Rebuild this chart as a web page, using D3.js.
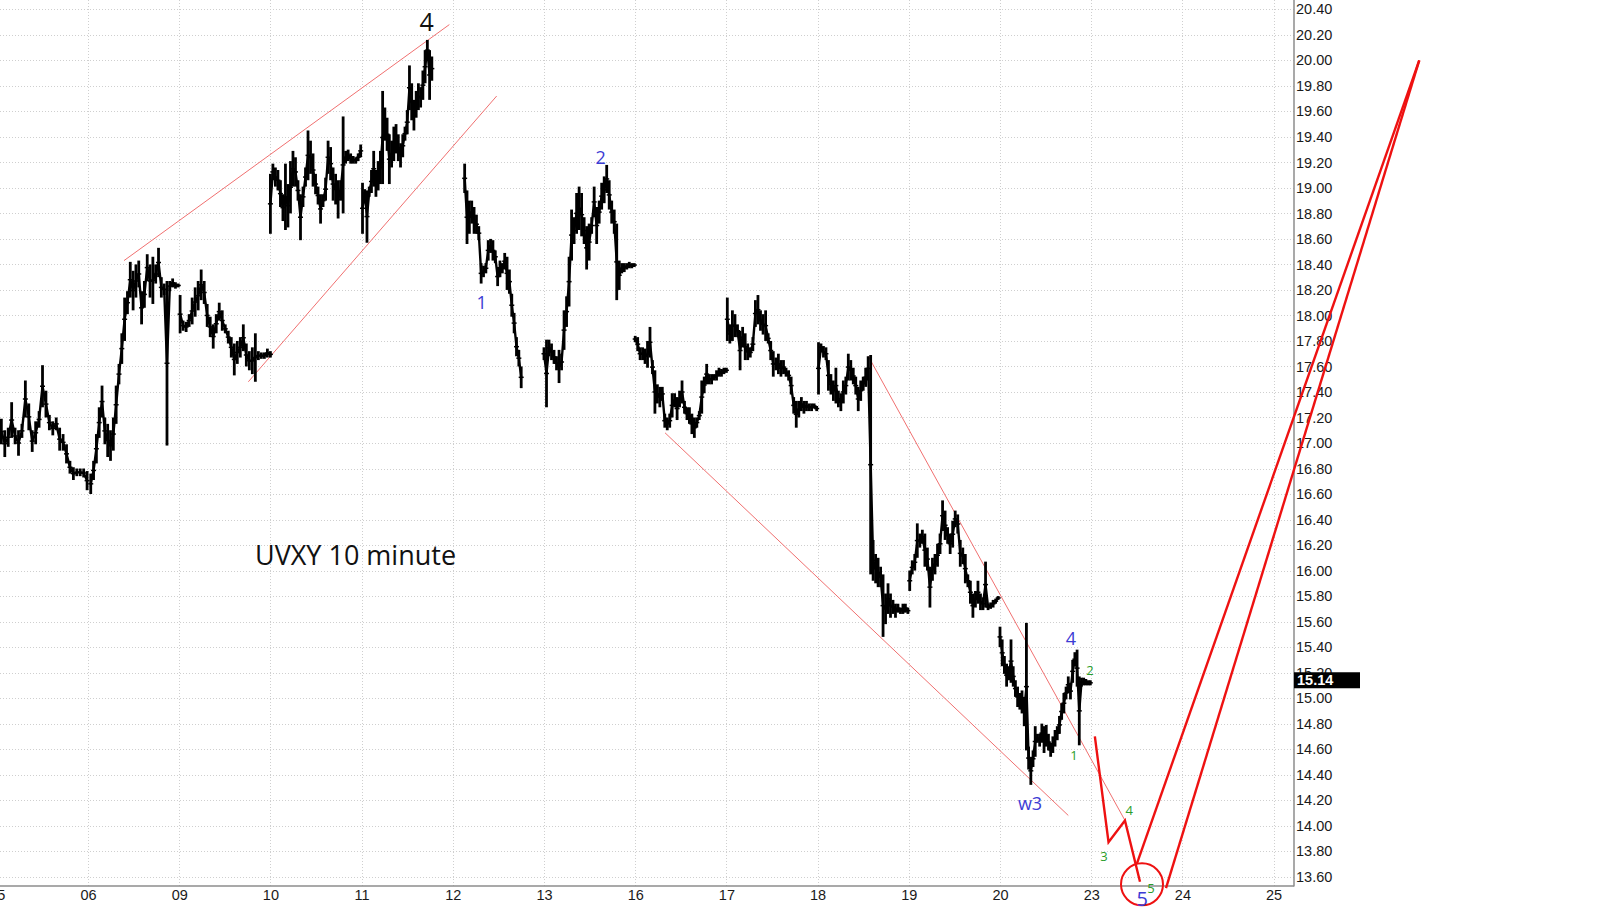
<!DOCTYPE html>
<html>
<head>
<meta charset="utf-8">
<script src="https://cdnjs.cloudflare.com/ajax/libs/d3/7.8.5/d3.min.js"></script>
<style>
  body { margin: 0; background: #fff; }
  svg { display: block; }
</style>
</head>
<body>
<div id="chart"></div>
<script>
// trading days on the axis
var dayLabels = ["05", "06", "09", "10", "11", "12", "13", "16", "17", "18", "19", "20", "23", "24", "25"];
var yTicks = d3.range(136, 205, 2).map(function (v) { return v / 10; });
var lastPrice = 15.14;

// 10 minute bars per day: [high, low]
var d05 = [[17.19,16.99],[17.10,16.89],[17.12,16.97],[17.32,17.04],[17.12,16.99],[17.10,16.90],[17.15,17.04],[17.49,17.20],[17.31,17.10],[17.10,16.93],[17.17,16.99],[17.25,17.12],[17.61,17.28],[17.41,17.20],[17.22,17.10],[17.17,17.06],[17.20,17.10],[17.12,16.94],[17.07,16.94],[16.99,16.84],[16.86,16.76],[16.81,16.71],[16.80,16.74],[16.80,16.74],[16.80,16.73],[16.78,16.63]];
var d06 = [[16.76,16.60],[16.86,16.71],[17.07,16.84],[17.28,17.04],[17.45,17.20],[17.20,16.99],[17.15,16.89],[17.10,16.86],[17.20,16.94],[17.45,17.15],[17.62,17.46],[17.86,17.62],[18.14,17.80],[18.19,18.01],[18.42,18.14],[18.35,18.04],[18.40,18.14],[18.43,18.22],[18.19,17.93],[18.27,18.06],[18.48,18.27],[18.40,18.14],[18.46,18.09],[18.40,18.25],[18.53,18.30],[18.30,18.14],[18.25,18.16],[18.27,16.98],[18.27,18.19],[18.29,18.22],[18.26,18.21],[18.25,18.22]];
var d09 = [[18.16,17.86],[17.96,17.88],[17.95,17.87],[18.01,17.91],[18.14,17.93],[18.22,17.99],[18.27,18.04],[18.36,18.12],[18.27,18.09],[18.09,17.91],[17.99,17.83],[17.93,17.74],[18.01,17.86],[18.10,17.96],[18.04,17.88],[17.93,17.86],[17.88,17.78],[17.83,17.67],[17.78,17.53],[17.80,17.62],[17.83,17.67],[17.93,17.72],[17.78,17.60],[17.72,17.57],[17.75,17.54],[17.86,17.48],[17.72,17.65],[17.71,17.66],[17.71,17.66],[17.74,17.67],[17.72,17.67]];
var d10 = [[19.11,18.64],[19.19,19.06],[19.16,19.01],[19.14,18.98],[19.06,18.85],[18.95,18.74],[19.19,18.67],[19.03,18.69],[19.21,18.80],[19.29,19.01],[19.24,19.01],[19.06,18.90],[18.95,18.59],[19.01,18.85],[19.16,19.01],[19.45,19.06],[19.37,19.11],[19.27,19.01],[19.11,18.95],[19.01,18.87],[18.95,18.72],[18.95,18.85],[19.08,18.90],[19.37,19.11],[19.32,19.06],[19.16,18.90],[19.11,18.87],[19.06,18.76],[19.06,18.90],[19.56,18.80],[19.29,19.19],[19.30,19.21],[19.27,19.19],[19.25,19.19],[19.24,19.19],[19.27,19.21],[19.34,19.24]];
var d11 = [[19.04,18.64],[18.99,18.93],[18.98,18.57],[19.01,18.93],[19.14,18.96],[19.29,19.01],[19.14,18.93],[19.21,18.98],[19.29,19.03],[19.76,19.03],[19.63,19.37],[19.55,19.29],[19.42,19.03],[19.37,19.16],[19.48,19.21],[19.50,19.27],[19.42,19.21],[19.35,19.16],[19.42,19.24],[19.48,19.37],[19.61,19.42],[19.96,19.61],[19.82,19.53],[19.69,19.45],[19.76,19.55],[19.82,19.61],[19.79,19.63],[19.92,19.69],[20.08,19.82],[20.16,20.00],[20.08,19.69],[20.03,19.84]];
var d12 = [[19.19,18.96],[18.98,18.56],[18.90,18.64],[18.90,18.72],[18.85,18.64],[18.79,18.64],[18.70,18.59],[18.41,18.25],[18.39,18.30],[18.41,18.33],[18.59,18.43],[18.60,18.49],[18.59,18.43],[18.51,18.41],[18.38,18.23],[18.43,18.30],[18.41,18.33],[18.49,18.36],[18.46,18.20],[18.36,18.17],[18.17,17.99],[18.02,17.86],[17.83,17.68],[17.73,17.60],[17.60,17.43]];
var d13 = [[17.75,17.65],[17.81,17.28],[17.81,17.68],[17.78,17.65],[17.73,17.62],[17.68,17.57],[17.73,17.47],[17.70,17.57],[18.04,17.73],[18.15,17.91],[18.46,18.07],[18.83,18.43],[18.77,18.56],[18.96,18.64],[19.01,18.67],[18.96,18.62],[18.77,18.56],[18.70,18.36],[18.72,18.43],[18.77,18.64],[19.01,18.77],[18.85,18.56],[18.90,18.72],[19.04,18.83],[19.09,18.88],[19.18,18.96],[19.06,18.83],[18.90,18.72],[18.83,18.64],[18.72,18.12],[18.43,18.20],[18.41,18.33],[18.41,18.34],[18.41,18.36],[18.42,18.37],[18.41,18.37],[18.41,18.38]];
var d16 = [[17.84,17.79],[17.83,17.72],[17.75,17.65],[17.75,17.65],[17.74,17.62],[17.80,17.59],[17.91,17.67],[17.65,17.54],[17.57,17.23],[17.46,17.31],[17.44,17.28],[17.44,17.33],[17.23,17.12],[17.20,17.10],[17.23,17.12],[17.39,17.20],[17.39,17.28],[17.36,17.18],[17.41,17.28],[17.49,17.31],[17.33,17.23],[17.28,17.18],[17.28,17.15],[17.23,17.07],[17.20,17.04],[17.20,17.12],[17.25,17.18],[17.49,17.23],[17.52,17.39],[17.62,17.46],[17.54,17.46],[17.54,17.46],[17.54,17.49],[17.57,17.49],[17.59,17.52],[17.58,17.52],[17.59,17.54],[17.59,17.55]];
var d17 = [[18.14,17.80],[17.93,17.78],[18.04,17.80],[18.01,17.83],[17.93,17.83],[17.88,17.57],[17.91,17.75],[17.86,17.65],[17.78,17.65],[17.75,17.67],[17.83,17.72],[18.12,17.91],[18.16,17.93],[18.04,17.88],[18.01,17.85],[18.04,17.80],[17.86,17.78],[17.80,17.65],[17.72,17.52],[17.67,17.57],[17.70,17.54],[17.65,17.52],[17.65,17.54],[17.59,17.52],[17.57,17.49],[17.52,17.38],[17.36,17.23],[17.33,17.12],[17.33,17.20],[17.36,17.25],[17.33,17.23],[17.33,17.25],[17.31,17.25],[17.31,17.25],[17.31,17.27],[17.29,17.25]];
var d18 = [[17.79,17.38],[17.78,17.72],[17.76,17.67],[17.75,17.65],[17.65,17.41],[17.54,17.38],[17.49,17.33],[17.59,17.31],[17.41,17.28],[17.39,17.25],[17.49,17.31],[17.52,17.38],[17.70,17.49],[17.65,17.49],[17.59,17.46],[17.52,17.38],[17.44,17.25],[17.49,17.33],[17.52,17.41],[17.59,17.44],[17.68,17.49],[17.69,15.97],[16.24,15.92],[16.13,15.90],[16.10,15.87],[16.03,15.87],[15.97,15.48],[15.82,15.58],[15.90,15.66],[15.82,15.63],[15.77,15.66],[15.74,15.63],[15.74,15.67],[15.71,15.66],[15.74,15.66],[15.74,15.67],[15.71,15.66]];
var d19 = [[16.00,15.84],[16.08,15.97],[16.13,16.00],[16.37,16.10],[16.29,16.18],[16.32,16.21],[16.29,16.03],[16.18,16.00],[16.03,15.71],[16.10,15.92],[16.13,15.97],[16.21,16.03],[16.29,16.13],[16.55,16.31],[16.47,16.24],[16.34,16.21],[16.29,16.13],[16.39,16.18],[16.47,16.34],[16.44,16.29],[16.24,16.03],[16.18,16.05],[16.13,15.90],[15.97,15.87],[15.92,15.74],[15.82,15.63],[15.84,15.71],[15.92,15.74],[15.82,15.69],[15.79,15.69],[16.07,15.71],[15.74,15.69],[15.75,15.70],[15.77,15.71],[15.78,15.74],[15.80,15.77]];
var d20 = [[15.56,15.40],[15.46,15.25],[15.33,15.19],[15.27,15.09],[15.25,15.14],[15.46,15.12],[15.25,15.09],[15.14,15.01],[15.09,14.93],[15.04,14.91],[15.06,14.88],[15.01,14.78],[15.59,14.59],[14.62,14.44],[14.54,14.32],[14.59,14.46],[14.78,14.54],[14.72,14.65],[14.72,14.62],[14.80,14.65],[14.78,14.57],[14.79,14.62],[14.72,14.59],[14.65,14.54],[14.70,14.57],[14.75,14.62],[14.78,14.67],[14.86,14.72],[14.96,14.83],[15.04,14.88],[15.09,14.99],[15.17,15.04],[15.12,14.99],[15.30,15.12],[15.36,15.25],[15.38,15.09],[15.17,14.63],[15.16,15.09],[15.16,15.10],[15.15,15.10],[15.14,15.10],[15.14,15.10]];

// session: [day, first bar, last bar] in day-index units
var sessions = [
  ["05", 0.05, 0.99, d05], ["06", 1.03, 1.99, d06], ["09", 2.01, 3.00, d09],
  ["10", 3.00, 3.99, d10], ["11", 4.01, 4.77, d11], ["12", 5.13, 5.75, d12],
  ["13", 6.00, 6.99, d13], ["16", 7.00, 8.00, d16], ["17", 8.01, 8.99, d17],
  ["18", 9.01, 9.99, d18], ["19", 10.01, 10.98, d19], ["20", 11.00, 11.99, d20]
];

// drawn trend lines [[day, price], [day, price]]
var trendLines = [
  [[1.395, 18.43], [4.962, 20.28]],
  [[2.758, 17.48], [5.481, 19.72]],
  [[7.327, 17.08], [11.749, 14.08]],
  [[9.556, 17.68], [12.371, 14.04]]
];
var forecastPath = [[12.04, 14.70], [12.19, 13.87], [12.37, 14.04], [12.535, 13.56]];
var forecastLegs = [
  [[12.50, 13.70], [15.597, 20.00]],
  [[12.82, 13.51], [15.597, 20.00]]
];
var targetCircle = [12.557, 13.54];

// wave labels [text, day, price]
var blackLabels = [["4", 4.714, 20.30]];
var blueLabels = [["2", 6.622, 19.24], ["1", 5.317, 18.10], ["4", 11.778, 15.47], ["w3", 11.329, 14.17]];
var bigBlueLabels = [["5", 12.56, 13.43]];
var greenLabels = [["2", 11.987, 15.215], ["1", 11.811, 14.548], ["4", 12.418, 14.117], ["3", 12.14, 13.762], ["5", 12.656, 13.509]];
var titleText = ["UVXY 10 minute", 2.831, 16.04];

var width = 1600, height = 911,
    plotRight = 1294, plotBottom = 886;

var x = d3.scaleLinear().domain([0, 14]).range([-3.2, 1273.6]);
var y = d3.scaleLinear().domain([13.6, 20.4]).range([876.7, 9.3]);

var svg = d3.select("#chart").append("svg")
    .attr("width", width)
    .attr("height", height)
    .style("font-family", "'Liberation Sans', Arial, sans-serif");

// grid
var grid = svg.append("g")
    .attr("stroke", "#cfcfcf")
    .attr("stroke-dasharray", "1,2");
grid.selectAll(".hg").data(yTicks).enter().append("line")
    .attr("x1", 0).attr("x2", plotRight)
    .attr("y1", function (d) { return Math.round(y(d)) + 0.5; })
    .attr("y2", function (d) { return Math.round(y(d)) + 0.5; });
grid.selectAll(".vg").data(d3.range(1, 15)).enter().append("line")
    .attr("y1", 0).attr("y2", plotBottom)
    .attr("x1", function (d) { return Math.round(x(d)) + 0.5; })
    .attr("x2", function (d) { return Math.round(x(d)) + 0.5; });

// thin trend lines
svg.append("g").selectAll("line").data(trendLines).enter().append("line")
    .attr("x1", function (d) { return x(d[0][0]); })
    .attr("y1", function (d) { return y(d[0][1]); })
    .attr("x2", function (d) { return x(d[1][0]); })
    .attr("y2", function (d) { return y(d[1][1]); })
    .attr("stroke", "#f07070")
    .attr("stroke-width", 1);

// price bars
var barLayer = svg.append("g");
var mid = d3.line()
    .x(function (d) { return x(d.t); })
    .y(function (d) { return y((d.hi + d.lo) / 2); });

sessions.forEach(function (s) {
    var bars = s[3];
    var t = d3.scaleLinear().domain([0, bars.length - 1]).range([s[1], s[2]]);
    var pts = bars.map(function (b, i) { return { t: t(i), hi: b[0], lo: b[1] }; });

    barLayer.append("path")
        .datum(pts)
        .attr("fill", "none")
        .attr("stroke", "#000")
        .attr("stroke-width", 2.4)
        .attr("d", mid);

    barLayer.selectAll(null).data(pts).enter().append("line")
        .attr("x1", function (d) { return x(d.t); })
        .attr("x2", function (d) { return x(d.t); })
        .attr("y1", function (d) { return y(d.hi); })
        .attr("y2", function (d) { return y(d.lo); })
        .attr("stroke", "#000")
        .attr("stroke-width", 2.8);

    // open/close ticks
    barLayer.selectAll(null).data(pts).enter().append("line")
        .attr("x1", function (d) { return x(d.t) - 2.5; })
        .attr("x2", function (d) { return x(d.t) + 2.5; })
        .attr("y1", function (d) { return y((d.hi + d.lo) / 2); })
        .attr("y2", function (d) { return y((d.hi + d.lo) / 2); })
        .attr("stroke", "#000")
        .attr("stroke-width", 1.5);
});

// axes
var yAxis = svg.append("g")
    .attr("transform", "translate(" + plotRight + ",0)")
    .call(d3.axisRight(y).tickValues(yTicks).tickSize(0).tickPadding(2).tickFormat(d3.format(".2f")));
var xAxis = svg.append("g")
    .attr("transform", "translate(0," + plotBottom + ")")
    .call(d3.axisBottom(x).tickValues(d3.range(15)).tickSize(0).tickPadding(4)
        .tickFormat(function (i) { return dayLabels[i]; }));
[yAxis, xAxis].forEach(function (a) {
    a.select(".domain").remove();
    a.selectAll("text")
        .attr("fill", "#1a1a1a")
        .style("font-size", "14.5px")
        .style("font-family", "'Liberation Sans', Arial, sans-serif");
});

svg.append("line")
    .attr("x1", plotRight).attr("x2", plotRight)
    .attr("y1", 0).attr("y2", plotBottom + 0.5)
    .attr("stroke", "#8c8c8c").attr("stroke-width", 1.5);
svg.append("line")
    .attr("x1", 0).attr("x2", plotRight)
    .attr("y1", plotBottom).attr("y2", plotBottom)
    .attr("stroke", "#8c8c8c").attr("stroke-width", 1.5);

// last price tag
svg.append("rect")
    .attr("x", plotRight)
    .attr("y", y(lastPrice) - 8)
    .attr("width", 66)
    .attr("height", 16)
    .attr("fill", "#000");
svg.append("text")
    .attr("x", plotRight + 3)
    .attr("y", y(lastPrice))
    .attr("dy", "0.36em")
    .attr("fill", "#fff")
    .style("font-size", "14.5px")
    .style("font-weight", "bold")
    .text(lastPrice.toFixed(2));

// forecast drawing
var red = "#ee1111";
svg.append("path")
    .datum(forecastPath)
    .attr("fill", "none")
    .attr("stroke", red)
    .attr("stroke-width", 2.4)
    .attr("stroke-linejoin", "miter")
    .attr("d", d3.line().x(function (d) { return x(d[0]); }).y(function (d) { return y(d[1]); }));
svg.append("g").selectAll("line").data(forecastLegs).enter().append("line")
    .attr("x1", function (d) { return x(d[0][0]); })
    .attr("y1", function (d) { return y(d[0][1]); })
    .attr("x2", function (d) { return x(d[1][0]); })
    .attr("y2", function (d) { return y(d[1][1]); })
    .attr("stroke", red)
    .attr("stroke-width", 2.4);
svg.append("circle")
    .attr("cx", x(targetCircle[0]))
    .attr("cy", y(targetCircle[1]))
    .attr("r", 21)
    .attr("fill", "none")
    .attr("stroke", red)
    .attr("stroke-width", 2);

// labels
function addLabels(data, color, size) {
    svg.append("g").selectAll("text").data(data).enter().append("text")
        .attr("x", function (d) { return x(d[1]); })
        .attr("y", function (d) { return y(d[2]); })
        .attr("dy", "0.36em")
        .attr("text-anchor", "middle")
        .attr("fill", color)
        .style("font-family", "'Open Sans', sans-serif")
        .style("font-size", size)
        .text(function (d) { return d[0]; });
}
addLabels(blackLabels, "#111", "25px");
addLabels(blueLabels, "#3c3cd4", "18px");
addLabels(bigBlueLabels, "#3c3cd4", "20px");
addLabels(greenLabels, "#2a9d2a", "13px");

svg.append("text")
    .attr("x", x(titleText[1]))
    .attr("y", y(titleText[2]))
    .attr("fill", "#111")
    .style("font-family", "'Open Sans', sans-serif")
    .style("font-size", "27px")
    .text(titleText[0]);
</script>
</body>
</html>
